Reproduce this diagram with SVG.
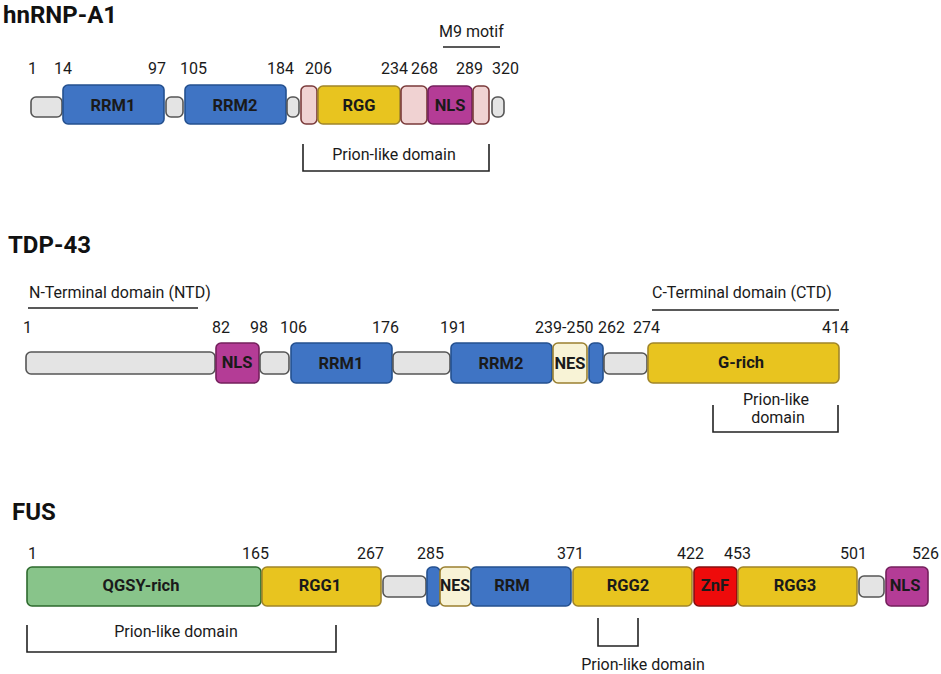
<svg xmlns="http://www.w3.org/2000/svg" width="941" height="674" viewBox="0 0 941 674">
<style>
text{font-family:Roboto,"Liberation Sans",sans-serif;fill:#1a1a1a}
.t{font-size:24px;font-weight:bold;fill:#111}
.n{font-size:16px}
.l{font-size:16.5px;font-weight:bold;text-anchor:middle}
.p{font-size:16px;text-anchor:middle}
.ln{stroke:#222;stroke-width:1.6;fill:none}
.g{fill:#e4e4e4;stroke:#555;stroke-width:1.6}
.b{fill:#3f74c4;stroke:#24508f;stroke-width:1.6}
.y{fill:#e8c41f;stroke:#a0852a;stroke-width:1.6}
.k{fill:#f0d2d2;stroke:#7a3a3a;stroke-width:1.6}
.m{fill:#b43c96;stroke:#74205c;stroke-width:1.6}
.e{fill:#f8f3d6;stroke:#9a8030;stroke-width:1.6}
.gr{fill:#88c48a;stroke:#2d6a2d;stroke-width:1.6}
.r{fill:#ee0b0b;stroke:#861010;stroke-width:1.6}
</style>

<g id="hnRNP-A1">
<text class="t" x="3" y="23">hnRNP-A1</text>
<text class="n" x="439" y="37">M9 motif</text>
<line class="ln" x1="443" y1="47" x2="500" y2="47"/>
<text class="n" x="28" y="74">1</text>
<text class="n" x="54" y="74">14</text>
<text class="n" x="148" y="74">97</text>
<text class="n" x="180" y="74">105</text>
<text class="n" x="267" y="74">184</text>
<text class="n" x="305" y="74">206</text>
<text class="n" x="381" y="74">234</text>
<text class="n" x="411" y="74">268</text>
<text class="n" x="456" y="74">289</text>
<text class="n" x="492" y="74">320</text>
<rect class="g" x="31" y="97" width="31" height="20" rx="5"/>
<rect class="b" x="63" y="85" width="101" height="39" rx="5"/>
<rect class="g" x="166" y="97" width="17" height="20" rx="5"/>
<rect class="b" x="185" y="85" width="101" height="39" rx="5"/>
<rect class="g" x="287" y="97" width="12" height="20" rx="5"/>
<rect class="k" x="301" y="86" width="16" height="38" rx="5"/>
<rect class="y" x="318" y="86" width="82" height="38" rx="5"/>
<rect class="k" x="401" y="86" width="26" height="38" rx="5"/>
<rect class="m" x="428" y="86" width="44" height="38" rx="5"/>
<rect class="k" x="473" y="86" width="16" height="38" rx="5"/>
<rect class="g" x="492" y="97" width="12" height="20" rx="5"/>
<text class="l" x="113" y="111">RRM1</text>
<text class="l" x="235" y="111">RRM2</text>
<text class="l" x="359" y="111">RGG</text>
<text class="l" x="450" y="111">NLS</text>
<path class="ln" d="M303 144V171H489V144"/>
<text class="p" x="394" y="160">Prion-like domain</text>
</g>

<g id="TDP-43">
<text class="t" x="8" y="253">TDP-43</text>
<text class="n" x="29" y="298">N-Terminal domain (NTD)</text>
<line class="ln" x1="28" y1="308" x2="198" y2="308"/>
<text class="n" x="652" y="298">C-Terminal domain (CTD)</text>
<line class="ln" x1="652" y1="310" x2="839" y2="310"/>
<text class="n" x="23" y="333">1</text>
<text class="n" x="212" y="333">82</text>
<text class="n" x="250" y="333">98</text>
<text class="n" x="280" y="333">106</text>
<text class="n" x="372" y="333">176</text>
<text class="n" x="440" y="333">191</text>
<text class="n" x="535" y="333">239-250</text>
<text class="n" x="598" y="333">262</text>
<text class="n" x="633" y="333">274</text>
<text class="n" x="822" y="333">414</text>
<rect class="g" x="26" y="352" width="189" height="22" rx="5"/>
<rect class="m" x="216" y="343" width="43" height="40" rx="5"/>
<rect class="g" x="260" y="352" width="29" height="22" rx="5"/>
<rect class="b" x="291" y="343" width="101" height="40" rx="5"/>
<rect class="g" x="393" y="352" width="57" height="22" rx="5"/>
<rect class="b" x="451" y="343" width="101" height="40" rx="5"/>
<rect class="e" x="553" y="343" width="34" height="40" rx="5"/>
<rect class="b" x="589" y="343" width="14" height="40" rx="5"/>
<rect class="g" x="604" y="353" width="43" height="21" rx="5"/>
<rect class="y" x="648" y="343" width="191" height="40" rx="5"/>
<text class="l" x="237" y="368">NLS</text>
<text class="l" x="341" y="369">RRM1</text>
<text class="l" x="501" y="369">RRM2</text>
<text class="l" x="570" y="369" textLength="31" lengthAdjust="spacingAndGlyphs">NES</text>
<text class="l" x="741" y="368">G-rich</text>
<text class="p" x="776" y="405">Prion-like</text>
<text class="p" x="778" y="423">domain</text>
<path class="ln" d="M713 405V432H838V405"/>
</g>

<g id="FUS">
<text class="t" x="12" y="520">FUS</text>
<text class="n" x="28" y="559">1</text>
<text class="n" x="242" y="559">165</text>
<text class="n" x="357" y="559">267</text>
<text class="n" x="417" y="559">285</text>
<text class="n" x="557" y="559">371</text>
<text class="n" x="677" y="559">422</text>
<text class="n" x="724" y="559">453</text>
<text class="n" x="840" y="559">501</text>
<text class="n" x="912" y="559">526</text>
<rect class="gr" x="27" y="567" width="234" height="39" rx="5"/>
<rect class="y" x="262" y="567" width="119" height="39" rx="5"/>
<rect class="g" x="383" y="576" width="43" height="21" rx="5"/>
<rect class="b" x="427" y="567" width="13" height="39" rx="5"/>
<rect class="e" x="440" y="567" width="31" height="39" rx="5"/>
<rect class="b" x="471" y="567" width="100" height="39" rx="5"/>
<rect class="y" x="573" y="567" width="119" height="39" rx="5"/>
<rect class="r" x="694" y="567" width="43" height="39" rx="5"/>
<rect class="y" x="738" y="567" width="119" height="39" rx="5"/>
<rect class="g" x="859" y="576" width="25" height="21" rx="5"/>
<rect class="m" x="886" y="567" width="42" height="39" rx="5"/>
<text class="l" x="141" y="591">QGSY-rich</text>
<text class="l" x="320" y="591">RGG1</text>
<text class="l" x="455" y="591" textLength="30" lengthAdjust="spacingAndGlyphs">NES</text>
<text class="l" x="512" y="591">RRM</text>
<text class="l" x="628" y="591">RGG2</text>
<text class="l" x="715" y="591">ZnF</text>
<text class="l" x="795" y="591">RGG3</text>
<text class="l" x="905" y="591">NLS</text>
<path class="ln" d="M27 625V652H336V625"/>
<text class="p" x="176" y="637">Prion-like domain</text>
<path class="ln" d="M598 618V646H638V618"/>
<text class="p" x="643" y="670">Prion-like domain</text>
</g>
</svg>
